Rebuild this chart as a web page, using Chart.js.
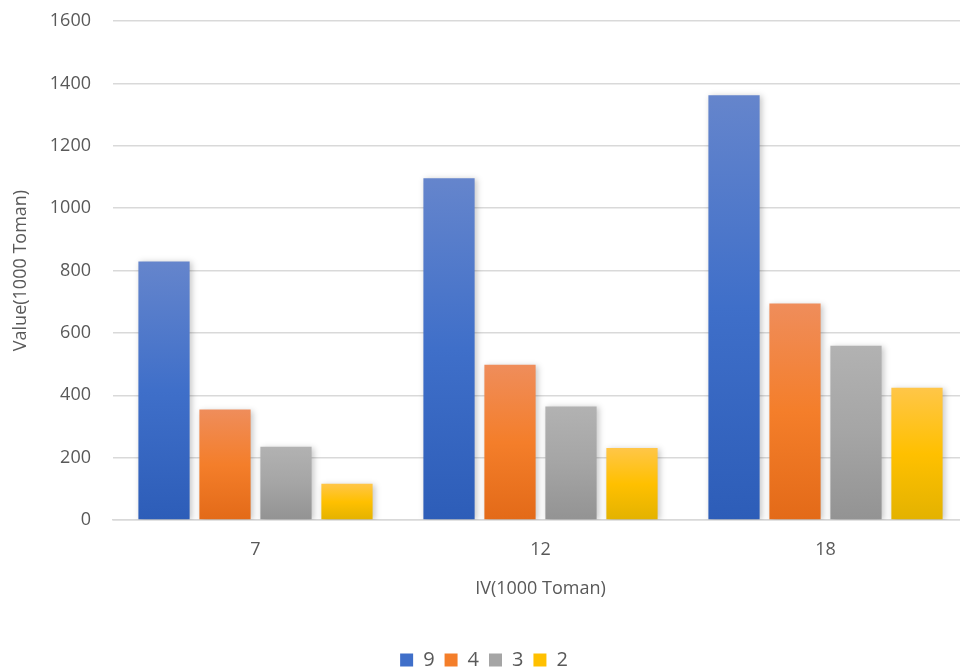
<!DOCTYPE html>
<html>
<head>
<meta charset="utf-8">
<script src="https://cdn.jsdelivr.net/npm/chart.js@4.4.1/dist/chart.umd.min.js"></script>
<style>
  html, body { margin: 0; padding: 0; background: #fff; overflow: hidden; width: 960px; height: 670px; }
  #caja { width: 970px; height: 680px; }
</style>
</head>
<body>
<div id="caja"><canvas id="grafica"></canvas></div>
<script>
const CATEGORIAS = ['7', '12', '18']
const SERIES = ['9', '4', '3', '2']
const VALORES_9 = [829, 1096, 1362]
const VALORES_4 = [354, 498, 694]
const VALORES_3 = [235, 364, 559]
const VALORES_2 = [116, 231, 424]
const TICKS_Y = [0, 200, 400, 600, 800, 1000, 1200, 1400, 1600]

// colores de degradado: arriba, medio, abajo
const COLORES = [
  ['#6585CC', '#3F6FC9', '#2D5DB8'],
  ['#EF8D5B', '#F47E2A', '#E36A18'],
  ['#B2B2B2', '#A5A5A5', '#939393'],
  ['#FFC648', '#FFC000', '#E3B200']
]

const FUENTE = '"Open Sans", "Liberation Sans", sans-serif'
const GRIS_TEXTO = '#595959'

function degradado(ctx, i){
  const chart = ctx.chart
  const colores = COLORES[i]
  if (!chart.chartArea || ctx.raw === undefined) return colores[1]
  const y = chart.scales.y
  const arriba = y.getPixelForValue(ctx.raw)
  const abajo = y.getPixelForValue(0)
  const g = chart.ctx.createLinearGradient(0, arriba, 0, abajo)
  g.addColorStop(0, colores[0])
  g.addColorStop(0.5, colores[1])
  g.addColorStop(1, colores[2])
  return g
}

// sombra suave debajo de las barras
const sombra = {
  id: 'sombra',
  beforeDatasetsDraw(chart){
    const c = chart.ctx
    c.save()
    c.shadowColor = 'rgba(0,0,0,0.22)'
    c.shadowBlur = 6
    c.shadowOffsetX = 2
    c.shadowOffsetY = 1
  },
  afterDatasetsDraw(chart){
    chart.ctx.restore()
  }
}

const datos = [VALORES_9, VALORES_4, VALORES_3, VALORES_2]

new Chart(document.getElementById('grafica'), {
  type: 'bar',
  data: {
    labels: CATEGORIAS,
    datasets: datos.map((valores, i) => ({
      label: SERIES[i],
      data: valores,
      backgroundColor: ctx => degradado(ctx, i),
      borderWidth: 0,
      barPercentage: 0.84,
      categoryPercentage: 0.856
    }))
  },
  options: {
    responsive: true,
    maintainAspectRatio: false,
    animation: false,
    layout: { padding: { top: 21, right: 2, left: 0, bottom: 0 } },
    plugins: {
      tooltip: { enabled: false },
      legend: {
        position: 'bottom',
        labels: {
          color: GRIS_TEXTO,
          font: { family: FUENTE, size: 20 },
          boxWidth: 13,
          boxHeight: 13,
          padding: 10,
          generateLabels: chart => SERIES.map((s, i) => ({
            text: s,
            fillStyle: COLORES[i][1],
            strokeStyle: COLORES[i][1],
            lineWidth: 0,
            datasetIndex: i,
            fontColor: GRIS_TEXTO
          }))
        }
      }
    },
    scales: {
      x: {
        grid: { display: false, drawTicks: false },
        border: { display: true, color: '#D9D9D9', width: 1.5 },
        ticks: { color: GRIS_TEXTO, font: { family: FUENTE, size: 18 }, padding: 19 },
        title: {
          display: true,
          text: 'IV(1000 Toman)',
          color: GRIS_TEXTO,
          font: { family: FUENTE, size: 18 },
          padding: { top: 0, bottom: 40 }
        },
        afterFit(escala){ escala.height = 120 }
      },
      y: {
        min: 0,
        max: 1600,
        afterBuildTicks(escala){ escala.ticks = TICKS_Y.map(v => ({ value: v })) },
        grid: { color: '#D9D9D9', lineWidth: 1.5, drawTicks: false },
        border: { display: false },
        ticks: {
          color: GRIS_TEXTO,
          font: { family: FUENTE, size: 18 },
          padding: 22,
          callback: v => String(v)
        },
        title: {
          display: true,
          text: 'Value(1000 Toman)',
          color: GRIS_TEXTO,
          font: { family: FUENTE, size: 18 },
          padding: { top: 10, bottom: 0 }
        },
        afterFit(escala){
          escala.width = 113
          escala.paddingTop = 0
          escala.paddingBottom = 0
        }
      }
    }
  },
  plugins: [sombra]
})
</script>
</body>
</html>
